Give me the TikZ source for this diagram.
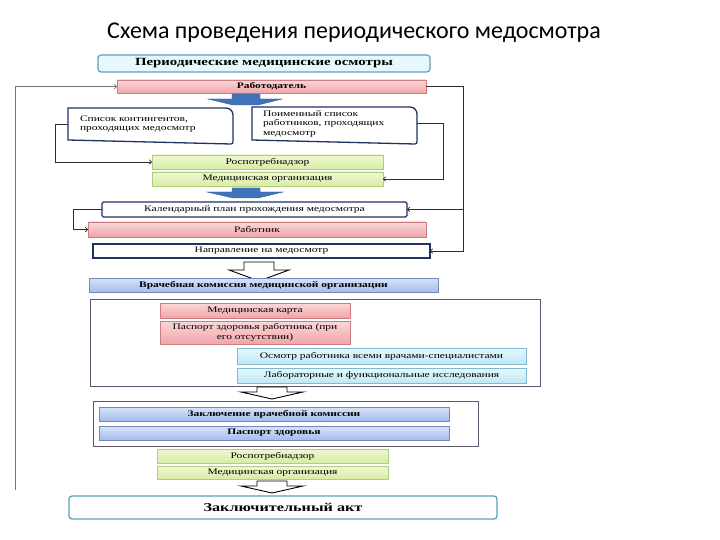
\documentclass[tikz,border=0pt]{standalone}
\usepackage{fontspec}
\setmainfont{Liberation Serif}
\newfontfamily\bxf[FakeStretch=1.35]{Liberation Serif}
\newfontfamily\ttlf{Carlito}
\usetikzlibrary{arrows.meta}
\definecolor{pinkl}{RGB}{252,215,215}
\definecolor{pinkm}{RGB}{240,165,170}
\definecolor{pinkd}{RGB}{205,125,130}
\definecolor{grnl}{RGB}{238,248,210}
\definecolor{grnm}{RGB}{214,236,165}
\definecolor{grnd}{RGB}{180,205,125}
\definecolor{bluel}{RGB}{215,228,250}
\definecolor{bluem}{RGB}{165,188,235}
\definecolor{blued}{RGB}{115,135,190}
\definecolor{cyanl}{RGB}{230,248,252}
\definecolor{cyanm}{RGB}{190,232,245}
\definecolor{cyand}{RGB}{130,185,210}
\definecolor{navy}{RGB}{30,50,100}
\definecolor{teal}{RGB}{95,160,190}
\definecolor{arrblue}{RGB}{65,115,185}
\definecolor{contd}{RGB}{95,85,110}
\definecolor{conn}{RGB}{45,45,45}
\begin{document}
\begin{tikzpicture}[x=1pt,y=-1pt,
  box/.style={inner sep=0pt, outer sep=0pt, align=center, font=\bxf\fontsize{8.5}{9.5}\selectfont},
  bbox/.style={box, font=\bxf\fontsize{8.5}{9.5}\selectfont\bfseries},
  pinkbox/.style={draw=pinkd, top color=pinkl, bottom color=pinkm},
  grnbox/.style={draw=grnd, top color=grnl, bottom color=grnm},
  bluebox/.style={draw=blued, top color=bluel, bottom color=bluem},
  cyanbox/.style={draw=cyand, top color=cyanl, bottom color=cyanm},
  navybox/.style={draw=navy, line width=1.3pt, fill=white},
  contbox/.style={draw=contd, line width=0.9pt, fill=white},
  link/.style={draw=conn, line width=0.7pt},
  linkarr/.style={link, -{To[length=3pt,width=5pt]}},
  hollow/.style={draw=black, line width=0.9pt, fill=white, line join=miter},
  bluearr/.style={fill=arrblue, draw=arrblue!80!black, line width=0.4pt}
]
\useasboundingbox (0,0) rectangle (720,540);
\fill[white] (0,0) rectangle (720,540);

% title
\node[font=\ttlf\fontsize{24}{28}\selectfont] (title) at (354,33) {Схема проведения периодического медосмотра};

% containers
\node[box, contbox, minimum width=450, minimum height=87] (cont1) at (315,342.5) {};
\node[box, contbox, minimum width=385, minimum height=45] (cont2) at (285.5,423.5) {};

% top part
\node[bbox, draw=teal, line width=1.2pt, fill=cyanl, rounded corners=3pt, minimum width=332, minimum height=17, font=\bxf\fontsize{11}{12}\selectfont\bfseries] (top) at (264,63.5) {Периодические медицинские осмотры};
\node[bbox, pinkbox, minimum width=309, minimum height=13] (emp) at (271.5,86.5) {Работодатель};

\node[box, minimum width=165, minimum height=32, text width=141, align=left] (list) at (150.5,124) {Список контингентов,\\проходящих медосмотр};
\draw[navy, line width=1.3pt] (list.south west) -- (list.north west) -- ([xshift=-7pt]list.north east) arc[start angle=90,end angle=0,radius=7pt] -- ([yshift=-2pt]list.south east) arc[start angle=0,end angle=-90,radius=2pt] -- cycle;
\node[box, minimum width=165, minimum height=33, text width=143, align=left] (plist) at (334.5,123.5) {Поименный список\\работников, проходящих\\медосмотр};
\draw[navy, line width=1.3pt] (plist.south west) -- (plist.north west) -- ([xshift=-7pt]plist.north east) arc[start angle=90,end angle=0,radius=7pt] -- ([yshift=-2pt]plist.south east) arc[start angle=0,end angle=-90,radius=2pt] -- cycle;

\node[box, grnbox, minimum width=231, minimum height=14] (rpn1) at (267.5,162) {Роспотребнадзор};
\node[box, grnbox, minimum width=231, minimum height=14] (mo1) at (267.5,179) {Медицинская организация};

\node[box, navybox, rounded corners=1.5pt, minimum width=305, minimum height=15] (cal) at (254.5,209.5) {Календарный план прохождения медосмотра};
\node[box, pinkbox, minimum width=338, minimum height=15] (worker) at (257,229.5) {Работник};
\node[box, navybox, minimum width=337, minimum height=14] (napr) at (261.5,251) {Направление на медосмотр};

% blue arrows
\path[bluearr] (232,94) -- (260,94) -- (260,99) -- (282,99) -- (258,105) -- (233,105) -- (208,99) -- (232,99) -- cycle;
\path[bluearr] (232,188) -- (260,188) -- (260,192) -- (283,192) -- (258,198) -- (233,198) -- (207,192) -- (232,192) -- cycle;

% connectors upper part
\coordinate (lx1) at (55,0);
\coordinate (rx1) at (443,0);
\coordinate (lx2) at (73,0);
\coordinate (R1) at (463,86.5);
\coordinate (R2) at (463,251);
\coordinate (Lbot) at (15,490);
\draw[linkarr] (list.west) -- (list.west -| lx1) |- (rpn1.west);
\draw[linkarr] (plist.east) -- (plist.east -| rx1) |- (mo1.east);
\draw[linkarr] (cal.west) -- (cal.west -| lx2) |- (worker.west);
\draw[linkarr] (emp.east) -- (R1) -- (R2) -- (napr.east);
\draw[linkarr] (R1 |- cal.east) -- (cal.east);
\draw[link, draw=black!55, -{To[length=3pt,width=5pt]}] (Lbot) |- (emp.west);

% hollow arrow 1
\draw[hollow] (244,262) -- (274,262) -- (274,270) -- (289,270) -- (259,281) -- (229,270) -- (244,270) -- cycle;

\node[bbox, bluebox, minimum width=349, minimum height=14] (vk) at (263.5,285) {Врачебная комиссия медицинской организации};

\node[box, pinkbox, minimum width=190, minimum height=15] (card) at (255,310.5) {Медицинская карта};
\node[box, pinkbox, minimum width=190, minimum height=23] (pass) at (255,332.5) {Паспорт здоровья работника (при\\его отсутствии)};
\node[box, cyanbox, minimum width=289, minimum height=16] (osm) at (381.5,356) {Осмотр работника всеми врачами-специалистами};
\node[box, cyanbox, minimum width=289, minimum height=15] (lab) at (381.5,375.5) {Лабораторные и функциональные исследования};

% hollow arrow 2
\draw[hollow] (257,387) -- (287,387) -- (287,392) -- (303,392) -- (272,399) -- (241,392) -- (257,392) -- cycle;

\node[bbox, bluebox, minimum width=350, minimum height=14] (zvk) at (274,414) {Заключение врачебной комиссии};
\node[bbox, bluebox, minimum width=350, minimum height=14] (pz) at (274,433) {Паспорт здоровья};
\node[box, grnbox, minimum width=231, minimum height=14] (rpn2) at (272.5,456) {Роспотребнадзор};
\node[box, grnbox, minimum width=231, minimum height=13] (mo2) at (272.5,472.5) {Медицинская организация};

% hollow arrow 3
\draw[hollow] (257,481) -- (287,481) -- (287,486) -- (303,486) -- (272,493) -- (241,486) -- (257,486) -- cycle;

\node[bbox, draw=teal, line width=1.3pt, fill=white, rounded corners=3pt, minimum width=428, minimum height=23, font=\bxf\fontsize{12}{14}\selectfont\bfseries] (final) at (283,507.5) {Заключительный акт};
\end{tikzpicture}
\end{document}
